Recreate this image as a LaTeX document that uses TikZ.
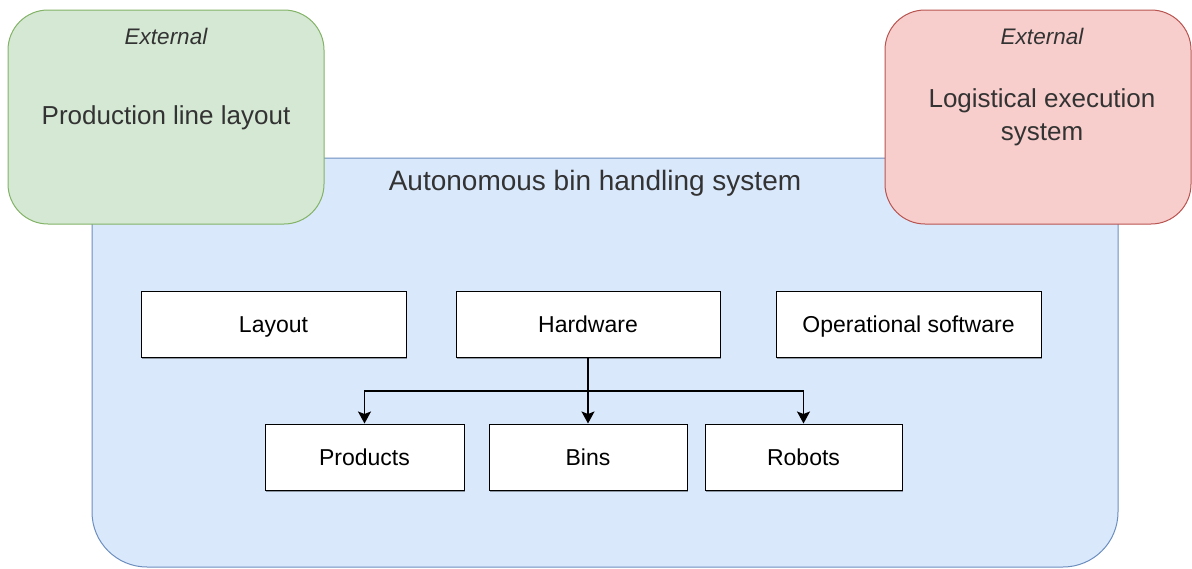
\documentclass[tikz,border=0pt]{standalone}
\usepackage{fontspec}
\setmainfont{Liberation Sans}
\usetikzlibrary{arrows.meta,shadows}

\definecolor{sysfill}{HTML}{DAE8FC}
\definecolor{sysdraw}{HTML}{6C8EBF}
\definecolor{linefill}{HTML}{D5E8D4}
\definecolor{linedraw}{HTML}{82B366}
\definecolor{lesfill}{HTML}{F8CECC}
\definecolor{lesdraw}{HTML}{B85450}
\definecolor{txtgray}{HTML}{333333}

\begin{document}
\begin{tikzpicture}[
  x=1pt, y=-1pt,
  every node/.style={inner sep=0pt, text=txtgray},
  extbox/.style={draw, line width=1pt, rounded corners=40pt, minimum height=214pt},
  partbox/.style={draw=black, fill=white, line width=1pt, minimum height=66pt,
    text height=18pt, text depth=1pt,
    drop shadow={shadow xshift=1pt, shadow yshift=-1.5pt, opacity=0.35, fill=black},
    font=\fontsize{23}{27}\selectfont, text=black},
  branch/.style={line width=1.3pt, -{Stealth[length=12pt, width=13pt, inset=2.5pt]}}
]
  \useasboundingbox (0,0) rectangle (1192,568);

  % ==========================================
  % 1. SYSTEM BOUNDARY (drawn at the back)
  % ==========================================
  \node[draw=sysdraw, fill=sysfill, line width=1pt, rounded corners=55pt,
    minimum width=1026pt, minimum height=409pt] (system) at (605,362.5) {};
  \node[font=\fontsize{28}{32}\selectfont] (systitle) at (595,183) {Autonomous bin handling system};

  % ==========================================
  % 2. EXTERNAL SYSTEMS
  % ==========================================
  % production line (green)
  \node[extbox, draw=linedraw, fill=linefill, minimum width=316pt] (prodline) at (166,117) {};
  \node[font=\itshape\fontsize{22.5}{26}\selectfont] (prodext) at (166,36) {External};
  \node[font=\fontsize{26}{30}\selectfont] (prodtext) at (166,118) {Production line layout};

  % logistical execution system (red)
  \node[extbox, draw=lesdraw, fill=lesfill, minimum width=306pt] (les) at (1038,117) {};
  \node[font=\itshape\fontsize{22.5}{26}\selectfont] (lesext) at (1042,36) {External};
  \node[font=\fontsize{26}{33}\selectfont, align=center] (lestext) at (1042,117) {Logistical execution\\system};

  % ==========================================
  % 3. PARTS OF THE SYSTEM
  % ==========================================
  \node[partbox, minimum width=265pt] (layout) at (273.5,324) {Layout};
  \node[partbox, minimum width=264pt] (hardware) at (588,324) {Hardware};
  \node[partbox, minimum width=265pt] (software) at (908.5,324) {Operational software};

  \node[partbox, minimum width=199pt] (products) at (364.5,457) {Products};
  \node[partbox, minimum width=198pt] (bins) at (588,457) {Bins};
  \node[partbox, minimum width=197pt] (robots) at (803.5,457) {Robots};

  % hardware breakdown
  \coordinate (split) at (588,391);
  \draw[branch] (hardware.south) -- (bins.north);
  \draw[branch] (split) -| (products.north);
  \draw[branch] (split) -| (robots.north);

\end{tikzpicture}
\end{document}
